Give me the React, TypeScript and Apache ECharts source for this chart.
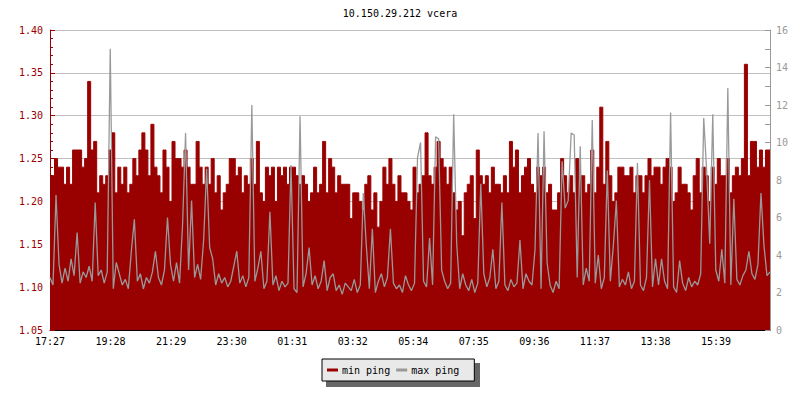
import React, { useEffect, useRef } from 'react';
import * as echarts from 'echarts';

const chartTitle = '10.150.29.212 vcera';
const timeLabels = ['17:27', '19:28', '21:29', '23:30', '01:31', '03:32', '05:34', '07:35', '09:36', '11:37', '13:38', '15:39'];
const spanMinutes = 1440;
const labelStep = 1332 / 11;

// min ping (left axis), one value per ~6 minutes
const minPing = [
  1.19, 1.23, 1.25, 1.24, 1.24, 1.22, 1.24, 1.22, 1.26, 1.26, 1.26, 1.24, 1.25, 1.34, 1.26, 1.27, 1.21, 1.23, 1.22, 1.23,
  1.26, 1.28, 1.21, 1.24, 1.22, 1.24, 1.21, 1.22, 1.25, 1.23, 1.26, 1.28, 1.26, 1.23, 1.29, 1.24, 1.23, 1.21, 1.26, 1.24,
  1.20, 1.27, 1.25, 1.25, 1.24, 1.26, 1.24, 1.22, 1.22, 1.27, 1.24, 1.22, 1.24, 1.22, 1.25, 1.21, 1.23, 1.19, 1.21, 1.22,
  1.25, 1.25, 1.23, 1.24, 1.21, 1.23, 1.22, 1.25, 1.22, 1.27, 1.21, 1.20, 1.24, 1.23, 1.24, 1.20, 1.24, 1.23, 1.24, 1.22,
  1.24, 1.24, 1.23, 1.22, 1.23, 1.22, 1.20, 1.21, 1.24, 1.21, 1.22, 1.27, 1.21, 1.25, 1.24, 1.21, 1.23, 1.22, 1.22, 1.22,
  1.18, 1.21, 1.21, 1.20, 1.19, 1.22, 1.23, 1.19, 1.21, 1.17, 1.20, 1.24, 1.22, 1.25, 1.22, 1.20, 1.23, 1.21, 1.21, 1.20,
  1.19, 1.24, 1.21, 1.22, 1.23, 1.28, 1.23, 1.22, 1.24, 1.27, 1.25, 1.24, 1.22, 1.24, 1.21, 1.19, 1.20, 1.16, 1.21, 1.22,
  1.23, 1.18, 1.26, 1.23, 1.22, 1.23, 1.21, 1.24, 1.22, 1.22, 1.21, 1.23, 1.21, 1.27, 1.24, 1.26, 1.21, 1.23, 1.24, 1.25,
  1.22, 1.21, 1.24, 1.23, 1.24, 1.21, 1.22, 1.19, 1.19, 1.21, 1.25, 1.23, 1.21, 1.23, 1.21, 1.25, 1.23, 1.23, 1.21, 1.22,
  1.26, 1.21, 1.24, 1.31, 1.22, 1.27, 1.23, 1.20, 1.21, 1.24, 1.24, 1.23, 1.23, 1.24, 1.21, 1.23, 1.23, 1.21, 1.23, 1.25,
  1.23, 1.24, 1.24, 1.22, 1.24, 1.25, 1.24, 1.20, 1.21, 1.24, 1.22, 1.22, 1.21, 1.19, 1.23, 1.25, 1.21, 1.24, 1.23, 1.20,
  1.24, 1.22, 1.25, 1.23, 1.23, 1.25, 1.21, 1.23, 1.24, 1.23, 1.25, 1.36, 1.23, 1.27, 1.27, 1.24, 1.26, 1.24, 1.26, 1.26,
];

// max ping (right axis)
const maxPing = [
  2.8, 2.4, 7.2, 3.5, 2.5, 3.3, 2.6, 3.8, 2.9, 5.2, 2.5, 3.1, 2.8, 3.4, 2.6, 6.8, 2.9, 3.2, 2.5, 3.1,
  15.0, 2.2, 3.6, 3.0, 2.4, 2.7, 2.2, 4.2, 5.9, 2.6, 3.0, 2.2, 2.8, 2.5, 3.1, 4.2, 2.8, 2.4, 3.2, 6.0,
  3.5, 2.6, 3.6, 2.5, 5.6, 10.5, 3.2, 6.9, 2.8, 3.5, 2.7, 4.8, 8.6, 4.4, 3.8, 2.4, 3.0, 2.5, 2.8, 2.3,
  2.6, 3.4, 4.2, 2.5, 2.9, 2.3, 2.8, 12.0, 2.6, 3.3, 4.2, 2.2, 2.6, 6.3, 2.4, 2.9, 2.1, 2.6, 2.3, 2.5,
  8.8, 2.2, 2.0, 11.4, 2.3, 3.0, 4.4, 2.4, 2.9, 2.2, 2.6, 3.7, 2.1, 2.8, 3.0, 2.1, 2.4, 1.9, 2.5, 2.3,
  2.1, 2.7, 2.0, 2.4, 7.3, 4.5, 2.2, 5.4, 2.0, 2.6, 3.0, 2.3, 2.8, 5.4, 2.5, 2.2, 2.4, 2.0, 2.9, 2.4,
  2.1, 2.5, 9.2, 10.0, 2.6, 2.3, 4.9, 2.4, 10.3, 10.2, 3.2, 2.6, 2.2, 2.5, 11.5, 4.6, 2.2, 3.0, 2.4, 2.1,
  2.7, 2.0, 2.5, 7.8, 3.0, 2.3, 2.8, 4.3, 2.2, 2.6, 6.8, 2.4, 2.1, 2.7, 2.3, 2.5, 4.8, 2.2, 3.0, 2.6,
  2.4, 4.3, 10.5, 2.2, 10.6, 3.6, 2.4, 2.0, 2.6, 2.2, 9.0, 6.5, 6.9, 10.5, 10.4, 2.8, 9.8, 2.4, 3.3, 2.6,
  11.2, 2.5, 4.0, 2.2, 2.8, 8.5, 2.6, 4.5, 6.9, 2.3, 2.7, 2.4, 3.1, 2.2, 2.6, 8.9, 2.4, 2.1, 2.8, 8.0,
  2.3, 3.8, 2.4, 3.8, 2.6, 2.2, 11.6, 2.3, 2.0, 3.7, 2.5, 2.1, 2.8, 2.3, 2.6, 2.4, 3.0, 11.3, 8.4, 4.6,
  11.5, 3.2, 2.6, 4.3, 2.5, 12.9, 2.4, 7.0, 2.7, 2.4, 2.9, 3.2, 4.2, 3.0, 2.7, 3.5, 7.3, 4.5, 2.9, 3.1,
];

const RED = '#990000';
const GRAY = '#999999';
const FONT = "'DejaVu Sans Mono', 'Liberation Mono', monospace";

export default function App() {
  const ref = useRef<HTMLDivElement>(null);
  useEffect(() => {
    if (!ref.current) return;
    const chart = echarts.init(ref.current, null, { renderer: 'svg' });
    const n = minPing.length;
    const xs = minPing.map((_, i) => (i * spanMinutes) / (n - 1));
    chart.setOption({
      animation: false,
      backgroundColor: '#ffffff',
      title: {
        text: chartTitle,
        left: 'center',
        top: 8,
        padding: 0,
        textStyle: { fontFamily: FONT, fontSize: 10, fontWeight: 'normal', color: '#000' },
      },
      legend: {
        data: ['min ping', 'max ping'],
        left: 322,
        top: 359,
        padding: [6, 15, 6, 5],
        itemGap: 6,
        itemWidth: 11,
        itemHeight: 3,
        icon: 'rect',
        backgroundColor: '#e9e9e9',
        borderColor: '#000',
        borderWidth: 1,
        borderRadius: 0,
        textStyle: { fontFamily: FONT, fontSize: 10, color: '#000', padding: [0, 0, 0, -1] },
      },
      graphic: [
        {
          type: 'rect',
          left: 326,
          top: 363,
          shape: { width: 154, height: 24 },
          style: { fill: '#666666' },
          z: 0,
          silent: true,
        },
      ],
      grid: { left: 50, right: 30, top: 30, bottom: 70 },
      xAxis: {
        type: 'value',
        min: 0,
        max: spanMinutes,
        interval: labelStep,
        axisLine: { show: true, lineStyle: { color: '#000' } },
        axisTick: { show: true, inside: true, length: 5, lineStyle: { color: '#000' } },
        splitLine: { show: false },
        axisLabel: {
          color: '#000',
          fontFamily: FONT,
          fontSize: 10,
          margin: 6,
          showMaxLabel: false,
          formatter: (v: number) => {
            const k = Math.round(v / labelStep);
            if (Math.abs(k * labelStep - v) > 0.5) return '';
            return timeLabels[k] ?? '';
          },
        },
      },
      yAxis: [
        {
          type: 'value',
          position: 'left',
          min: 1.05,
          max: 1.4,
          interval: 0.05,
          axisLine: { show: true, lineStyle: { color: RED } },
          axisTick: { show: true, inside: true, length: 5, lineStyle: { color: RED } },
          minorTick: { show: true, splitNumber: 5, length: 3, lineStyle: { color: RED } },
          axisLabel: {
            color: RED,
            fontFamily: FONT,
            fontSize: 10,
            margin: 7,
            formatter: (v: number) => v.toFixed(2),
          },
          splitLine: { show: true, lineStyle: { color: '#c0c0c0', width: 1 } },
        },
        {
          type: 'value',
          position: 'right',
          min: 0,
          max: 16,
          interval: 2,
          axisLine: { show: true, lineStyle: { color: GRAY } },
          axisTick: { show: true, inside: true, length: 5, lineStyle: { color: GRAY } },
          minorTick: { show: true, splitNumber: 2, length: 5, lineStyle: { color: GRAY } },
          axisLabel: { color: GRAY, fontFamily: FONT, fontSize: 10, margin: 6 },
          splitLine: { show: false },
        },
      ],
      series: [
        {
          name: 'min ping',
          type: 'line',
          yAxisIndex: 0,
          step: 'middle',
          symbol: 'none',
          data: xs.map((x, i) => [x, minPing[i]]),
          lineStyle: { width: 1, color: RED },
          itemStyle: { color: RED },
          areaStyle: { color: RED, opacity: 1, origin: 'start' },
          z: 2,
        },
        {
          name: 'max ping',
          type: 'line',
          yAxisIndex: 1,
          symbol: 'none',
          data: xs.map((x, i) => [x, maxPing[i]]),
          lineStyle: { width: 1.3, color: GRAY },
          itemStyle: { color: GRAY },
          z: 3,
        },
      ],
    });
    return () => chart.dispose();
  }, []);
  return <div ref={ref} style={{ position: 'fixed', left: 0, top: 0, width: 800, height: 400 }} />;
}
